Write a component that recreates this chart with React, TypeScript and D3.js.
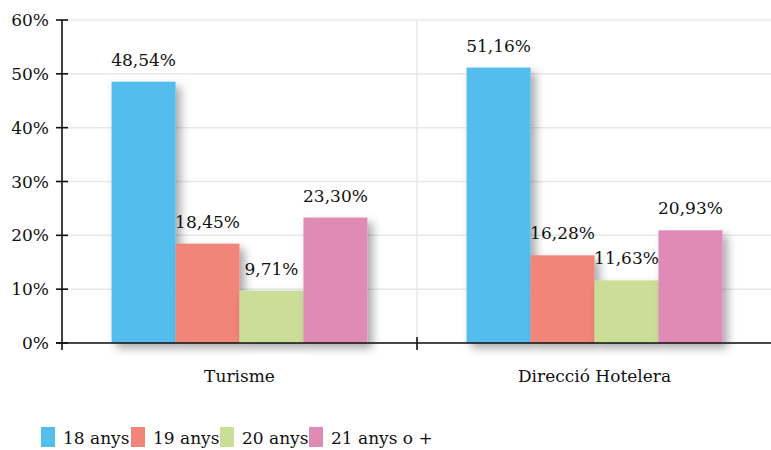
import React from "react";
import * as d3 from "d3";

const categories = ["Turisme", "Direcció Hotelera"];
const seriesNames = ["18 anys", "19 anys", "20 anys", "21 anys o +"];
const values = [
  [48.54, 18.45, 9.71, 23.3],
  [51.16, 16.28, 11.63, 20.93],
];
const colors = ["#52BEEE", "#F08578", "#CBDE98", "#E08BB5"];
const yTicks = [0, 10, 20, 30, 40, 50, 60];

const W = 771;
const H = 450;
const left = 62;
const right = 771;
const top = 20;
const bottom = 343;
const fs = 17;
const font = "DejaVu Serif";

const fmt = (v: number) => v.toFixed(2).replace(".", ",") + "%";

export default function App() {
  const y = d3.scaleLinear().domain([0, 60]).range([bottom, top]);
  const x0 = d3.scaleBand<string>().domain(categories).range([left, right + 1]).paddingInner(0).paddingOuter(0);
  const x1 = d3
    .scaleBand<string>()
    .domain(seriesNames)
    .range([0, x0.bandwidth()])
    .paddingOuter(0.775)
    .paddingInner(0);

  return (
    <svg width={W} height={H} style={{ position: "absolute", left: 0, top: 0 }}>
      <defs>
        <filter id="sh" x="-30%" y="-10%" width="180%" height="130%">
          <feDropShadow dx="5" dy="5" stdDeviation="5" floodColor="#000" floodOpacity="0.35" />
        </filter>
      </defs>
      <rect width={W} height={H} fill="#fff" />
      {yTicks.map((t) => (
        <line key={t} x1={left} x2={right} y1={y(t)} y2={y(t)} stroke="#e8e8e8" strokeWidth={1.5} />
      ))}
      {categories.slice(1).map((c) => (
        <line key={c} x1={x0(c)!} x2={x0(c)!} y1={top} y2={bottom} stroke="#e8e8e8" strokeWidth={1.5} />
      ))}
      {categories.map((c, ci) =>
        seriesNames.map((s, si) => {
          const bx = x0(c)! + x1(s)!;
          const v = values[ci][si];
          return (
            <rect
              key={c + s}
              x={bx}
              y={y(v)}
              width={x1.bandwidth()}
              height={bottom - y(v)}
              fill={colors[si]}
              filter="url(#sh)"
            />
          );
        })
      )}
      {categories.map((c, ci) =>
        seriesNames.map((s, si) => {
          const bx = x0(c)! + x1(s)! + x1.bandwidth() / 2;
          const v = values[ci][si];
          return (
            <text key={"l" + c + s} x={bx} y={y(v) - 16} textAnchor="middle" fontFamily={font} fontSize={fs} fill="#111">
              {fmt(v)}
            </text>
          );
        })
      )}
      <line x1={left} x2={left} y1={top} y2={bottom + 7} stroke="#111" strokeWidth={1.6} />
      <line x1={left - 6} x2={right} y1={bottom} y2={bottom} stroke="#111" strokeWidth={1.6} />
      {yTicks.map((t) => (
        <g key={"t" + t}>
          <line x1={left - 6} x2={left + 6} y1={y(t)} y2={y(t)} stroke="#111" strokeWidth={1.6} />
          <text x={left - 13} y={y(t) + 6} textAnchor="end" fontFamily={font} fontSize={fs} fill="#111">
            {t}%
          </text>
        </g>
      ))}
      {categories.slice(1).map((c) => (
        <line key={"xt" + c} x1={x0(c)!} x2={x0(c)!} y1={bottom - 6} y2={bottom + 7} stroke="#111" strokeWidth={1.6} />
      ))}
      {categories.map((c) => (
        <text key={"c" + c} x={x0(c)! + x0.bandwidth() / 2} y={382} textAnchor="middle" fontFamily={font} fontSize={fs} fill="#111">
          {c}
        </text>
      ))}
      {seriesNames.map((s, i) => {
        const lx = [41, 131, 220, 309][i];
        return (
          <g key={"lg" + s}>
            <rect x={lx} y={427} width={14} height={20} fill={colors[i]} />
            <text x={lx + 22} y={444} fontFamily={font} fontSize={fs} fill="#111">
              {s}
            </text>
          </g>
        );
      })}
    </svg>
  );
}
